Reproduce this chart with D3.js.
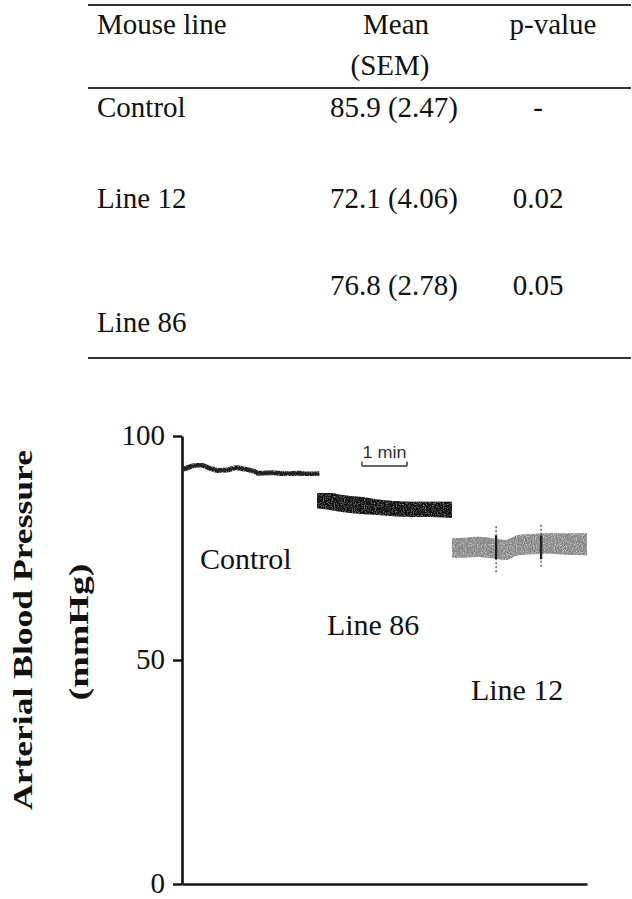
<!DOCTYPE html>
<html>
<head>
<meta charset="utf-8">
<script src="https://cdn.jsdelivr.net/npm/d3@7"></script>
<style>
  body { margin: 0; background: #fff; }
  svg { display: block; }
  text { font-family: "Liberation Serif", "Times New Roman", serif; fill: #111; }
</style>
</head>
<body>
<div id="chart"></div>
<script>
// table
const mouseLines = ["Control", "Line 12", "Line 86"];
const means = [85.9, 72.1, 76.8];
const sems = [2.47, 4.06, 2.78];
const pValues = ["-", "0.02", "0.05"];

// traces (time in min, pressure in mmHg)
const controlTime = [0, 0.1, 0.2, 0.4, 0.6, 0.8, 1.0, 1.1, 1.2, 1.4, 1.6, 1.7, 2.0, 2.3, 2.6, 2.8, 3.05];
const controlBP = [92.6, 92.8, 93.2, 93.5, 92.9, 92.3, 92.4, 92.7, 92.9, 92.6, 92.1, 91.7, 91.8, 91.6, 91.7, 91.5, 91.6];

const line86Time = [3.0, 3.3, 3.6, 4.0, 4.3, 4.7, 5.1, 5.5, 6.0];
const line86Hi = [87.3, 87.3, 86.8, 86.4, 85.9, 85.5, 85.3, 85.3, 85.3];
const line86Lo = [83.9, 83.5, 83.0, 82.6, 82.4, 82.1, 81.9, 81.9, 81.7];

const line12Time = [6.0, 6.3, 6.58, 6.9, 7.18, 7.47, 7.8, 8.07, 8.5, 9.0];
const line12Hi = [77.2, 77.3, 77.5, 77.2, 76.8, 77.9, 78.1, 78.3, 78.3, 78.3];
const line12Lo = [72.8, 72.9, 73.0, 72.7, 72.3, 73.4, 73.6, 73.7, 73.5, 73.4];

const spikeTime = [6.98, 7.98];
const spikeLo = [69.6, 70.8];
const spikeHi = [80.1, 80.6];

const yTicks = [0, 50, 100];

const width = 632, height = 899;

const svg = d3.select("#chart").append("svg")
  .attr("width", width)
  .attr("height", height);

// grain for the scanned traces
const defs = svg.append("defs");
const grain = defs.append("filter").attr("id", "grain")
  .attr("x", 0).attr("y", -0.2).attr("width", 1).attr("height", 1.4);
grain.append("feTurbulence")
  .attr("type", "fractalNoise")
  .attr("baseFrequency", 0.9)
  .attr("numOctaves", 1)
  .attr("seed", 4)
  .attr("result", "noise");
grain.append("feColorMatrix")
  .attr("in", "noise")
  .attr("type", "matrix")
  .attr("values", "0 0 0 0 0  0 0 0 0 0  0 0 0 0 0  3 0 0 0 -0.6")
  .attr("result", "mask");
grain.append("feComposite")
  .attr("in", "SourceGraphic")
  .attr("in2", "mask")
  .attr("operator", "in");

// ---- table ----
const table = svg.append("g");
const ruleY = [5, 88, 358];
table.selectAll("line.rule")
  .data(ruleY)
  .enter().append("line")
  .attr("class", "rule")
  .attr("x1", 88).attr("x2", 631)
  .attr("y1", d => d).attr("y2", d => d)
  .attr("stroke", "#333")
  .attr("stroke-width", 2.2);

const fs = 29;
table.append("text").attr("x", 97).attr("y", 34).attr("font-size", fs).text("Mouse line");
table.append("text").attr("x", 396).attr("y", 34).attr("font-size", fs)
  .attr("text-anchor", "middle").text("Mean");
table.append("text").attr("x", 390).attr("y", 75).attr("font-size", fs)
  .attr("text-anchor", "middle").text("(SEM)");
table.append("text").attr("x", 553).attr("y", 34).attr("font-size", fs)
  .attr("text-anchor", "middle").text("p-value");

const valueY = [117, 208, 295];
const labelY = [117, 208, 332];

table.selectAll("text.row-label")
  .data(mouseLines)
  .enter().append("text")
  .attr("class", "row-label")
  .attr("x", 97)
  .attr("y", (d, i) => labelY[i])
  .attr("font-size", fs)
  .text(d => d);

table.selectAll("text.row-mean")
  .data(means)
  .enter().append("text")
  .attr("class", "row-mean")
  .attr("x", 394)
  .attr("y", (d, i) => valueY[i])
  .attr("font-size", fs)
  .attr("text-anchor", "middle")
  .text((d, i) => d.toFixed(1) + " (" + sems[i].toFixed(2) + ")");

table.selectAll("text.row-p")
  .data(pValues)
  .enter().append("text")
  .attr("class", "row-p")
  .attr("x", 538)
  .attr("y", (d, i) => valueY[i])
  .attr("font-size", fs)
  .attr("text-anchor", "middle")
  .text(d => d);

// ---- chart ----
const x = d3.scaleLinear().domain([0, 9]).range([182, 587]);
const y = d3.scaleLinear().domain([0, 100]).range([884, 436]);

const yAxis = svg.append("g")
  .attr("transform", "translate(" + x(0) + ",0)")
  .call(d3.axisLeft(y).tickValues(yTicks).tickSize(9).tickPadding(8).tickSizeOuter(0));
yAxis.select(".domain").attr("stroke", "#111").attr("stroke-width", 2.6);
yAxis.selectAll(".tick line").attr("stroke", "#111").attr("stroke-width", 2.4);
yAxis.selectAll(".tick text")
  .attr("font-size", 29)
  .attr("fill", "#111")
  .attr("dy", "0.3em");

const xAxis = svg.append("g")
  .attr("transform", "translate(0," + y(0) + ")")
  .call(d3.axisBottom(x).tickValues([]).tickSizeOuter(0));
xAxis.select(".domain").attr("stroke", "#111").attr("stroke-width", 2.6);

// axis title
svg.append("text")
  .attr("transform", "translate(32,630) rotate(-90)")
  .attr("text-anchor", "middle")
  .attr("font-size", 27)
  .attr("font-weight", "bold")
  .attr("textLength", 360)
  .attr("lengthAdjust", "spacingAndGlyphs")
  .text("Arterial Blood Pressure");
svg.append("text")
  .attr("transform", "translate(88,632) rotate(-90)")
  .attr("text-anchor", "middle")
  .attr("font-size", 27)
  .attr("font-weight", "bold")
  .attr("textLength", 137)
  .attr("lengthAdjust", "spacingAndGlyphs")
  .text("(mmHg)");

// control trace
const controlData = controlTime.map((t, i) => ({ t: t, v: controlBP[i] }));
svg.append("path")
  .datum(controlData)
  .attr("fill", "none")
  .attr("stroke", "#1a1a1a")
  .attr("stroke-width", 5)
  .attr("filter", "url(#grain)")
  .attr("d", d3.line().x(d => x(d.t)).y(d => y(d.v)).curve(d3.curveMonotoneX));
svg.append("path")
  .datum(controlData)
  .attr("fill", "none")
  .attr("stroke", "#222")
  .attr("stroke-width", 2.6)
  .attr("d", d3.line().x(d => x(d.t)).y(d => y(d.v)).curve(d3.curveMonotoneX));

// band traces
const band = d3.area()
  .x(d => x(d.t))
  .y0(d => y(d.lo))
  .y1(d => y(d.hi))
  .curve(d3.curveMonotoneX);

const line86Data = line86Time.map((t, i) => ({ t: t, lo: line86Lo[i], hi: line86Hi[i] }));
svg.append("path").datum(line86Data)
  .attr("fill", "#3a3a3a").attr("opacity", 0.55).attr("d", band);
svg.append("path").datum(line86Data)
  .attr("fill", "#111").attr("filter", "url(#grain)").attr("d", band);

const line12Data = line12Time.map((t, i) => ({ t: t, lo: line12Lo[i], hi: line12Hi[i] }));
svg.append("path").datum(line12Data)
  .attr("fill", "#bdbdbd").attr("opacity", 0.6).attr("d", band);
svg.append("path").datum(line12Data)
  .attr("fill", "#888").attr("filter", "url(#grain)").attr("d", band);

svg.selectAll("line.spike")
  .data(spikeTime)
  .enter().append("line")
  .attr("class", "spike")
  .attr("x1", d => x(d)).attr("x2", d => x(d))
  .attr("y1", (d, i) => y(spikeLo[i])).attr("y2", (d, i) => y(spikeHi[i]))
  .attr("stroke", "#555")
  .attr("stroke-width", 1.4)
  .attr("stroke-dasharray", "2,2");
svg.selectAll("line.spike-core")
  .data(spikeTime)
  .enter().append("line")
  .attr("class", "spike-core")
  .attr("x1", d => x(d)).attr("x2", d => x(d))
  .attr("y1", y(72.5)).attr("y2", y(77.8))
  .attr("stroke", "#222")
  .attr("stroke-width", 2.4);

// trace labels
svg.append("text").attr("x", x(0.4)).attr("y", y(70.3)).attr("font-size", 30).text("Control");
svg.append("text").attr("x", x(3.22)).attr("y", y(55.6)).attr("font-size", 30).text("Line 86");
svg.append("text").attr("x", x(6.42)).attr("y", y(41.1)).attr("font-size", 30).text("Line 12");

// 1 min scale bar
const bar = svg.append("g").attr("stroke", "#333").attr("stroke-width", 1.4);
bar.append("line").attr("x1", x(4)).attr("x2", x(5)).attr("y1", y(93.3)).attr("y2", y(93.3));
bar.append("line").attr("x1", x(4)).attr("x2", x(4)).attr("y1", y(93.3)).attr("y2", y(94.3));
bar.append("line").attr("x1", x(5)).attr("x2", x(5)).attr("y1", y(93.3)).attr("y2", y(94.3));
svg.append("text")
  .attr("x", (x(4) + x(5)) / 2)
  .attr("y", y(95.2))
  .attr("text-anchor", "middle")
  .style("font-family", "'Liberation Sans', Arial, sans-serif")
  .style("fill", "#333")
  .attr("font-size", 16)
  .attr("textLength", 44)
  .attr("lengthAdjust", "spacingAndGlyphs")
  .text("1 min");
</script>
</body>
</html>
